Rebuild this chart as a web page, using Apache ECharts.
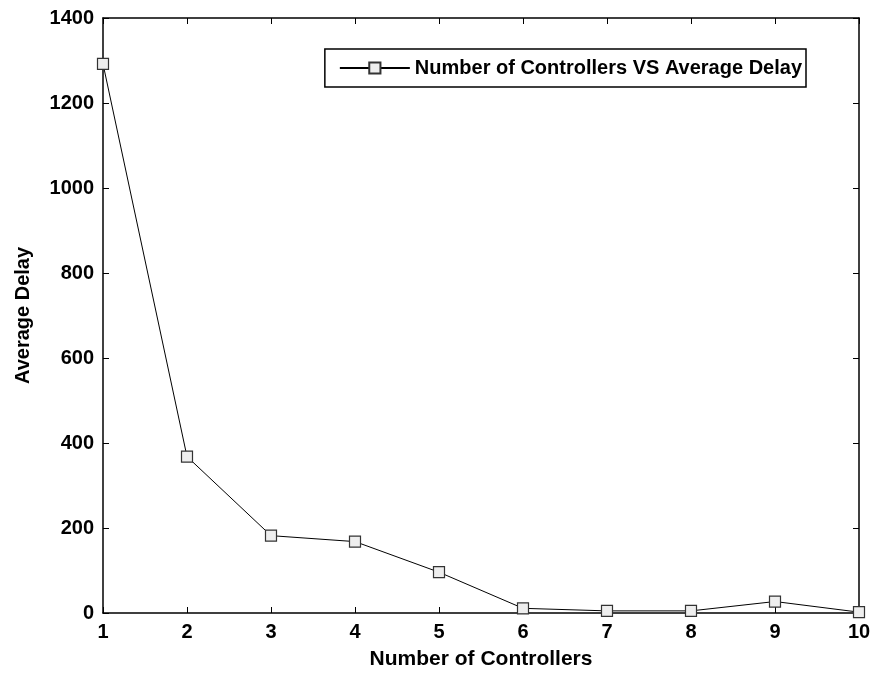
<!DOCTYPE html>
<html>
<head>
<meta charset="utf-8">
<script src="https://cdn.jsdelivr.net/npm/echarts@6/dist/echarts.min.js"></script>
<style>html,body{margin:0;padding:0;background:#fff}#c{width:876px;height:675px}</style>
</head>
<body>
<div id="c"></div>
<script>
const controllers = [1, 2, 3, 4, 5, 6, 7, 8, 9, 10];
const avgDelay = [1292, 368, 182, 168, 96, 11, 5, 5, 27, 2];
const seriesName = 'Number of Controllers VS Average Delay';
const xTitle = 'Number of Controllers';
const yTitle = 'Average Delay';

const font = 'Liberation Sans, Arial, sans-serif';
const chart = echarts.init(document.getElementById('c'));
const axisCommon = {
  axisLine: { show: true, onZero: false, lineStyle: { color: '#000', width: 1.5 } },
  axisTick: { show: true, inside: true, length: 6, lineStyle: { color: '#000', width: 1 } },
  splitLine: { show: false }
};
const labelStyle = { fontFamily: font, fontWeight: 'bold', fontSize: 20, color: '#000' };
chart.setOption({
  animation: false,
  backgroundColor: '#fff',
  grid: { left: 103, right: 17, top: 18, bottom: 62, containLabel: false },
  legend: {
    data: [seriesName],
    right: 70, top: 49,
    itemWidth: 70, itemHeight: 14, itemGap: 6,
    padding: [9, 4, 9, 14],
    borderColor: '#000', borderWidth: 1.5,
    backgroundColor: '#fff',
    textStyle: { fontFamily: font, fontWeight: 'bold', fontSize: 20, color: '#000' }
  },
  xAxis: [
    Object.assign({
      type: 'value', min: 1, max: 10, interval: 1, position: 'bottom',
      name: xTitle, nameLocation: 'middle', nameGap: 36,
      nameTextStyle: { fontFamily: font, fontWeight: 'bold', fontSize: 21, color: '#000' },
      axisLabel: Object.assign({ margin: 9, formatter: v => String(v) }, labelStyle)
    }, axisCommon),
    Object.assign({
      type: 'value', min: 1, max: 10, interval: 1, position: 'top',
      axisLabel: { show: false }
    }, axisCommon)
  ],
  yAxis: [
    Object.assign({
      type: 'value', min: 0, max: 1400, interval: 200, position: 'left',
      name: yTitle, nameLocation: 'middle', nameGap: 70,
      nameTextStyle: { fontFamily: font, fontWeight: 'bold', fontSize: 20, color: '#000' },
      axisLabel: Object.assign({ margin: 9, formatter: v => String(v) }, labelStyle)
    }, axisCommon),
    Object.assign({
      type: 'value', min: 0, max: 1400, interval: 200, position: 'right',
      axisLabel: { show: false }
    }, axisCommon)
  ],
  series: [{
    name: seriesName,
    type: 'line',
    data: controllers.map((c, i) => [c, avgDelay[i]]),
    symbol: 'rect', symbolSize: 11,
    lineStyle: { color: '#000', width: 1 },
    itemStyle: { color: '#eeeeee', borderColor: '#333', borderWidth: 1.2 },
    emphasis: { disabled: true }
  }]
});
</script>
</body>
</html>
